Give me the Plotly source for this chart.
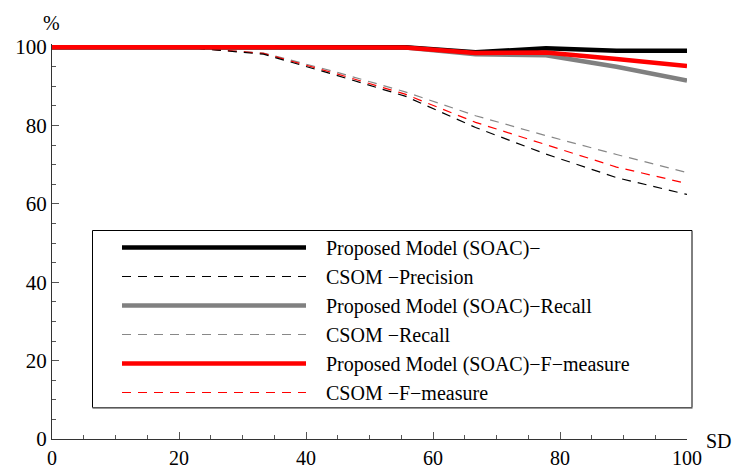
import plotly.graph_objects as go

sd = [0, 11.1, 22.2, 33.3, 44.4, 55.6, 66.7, 77.8, 88.9, 100]

soac_precision = [100, 100, 100, 100, 100, 100, 98.7, 99.7, 99.1, 99.1]
soac_recall = [100, 100, 100, 100, 100, 99.9, 98.2, 97.9, 95.0, 91.5]
soac_fmeasure = [100, 100, 100, 100, 100, 99.9, 98.5, 98.6, 97.0, 95.2]

csom_precision = [100, 100, 99.8, 98.2, 93.0, 87.5, 79.5, 72.7, 66.7, 62.4]
csom_recall = [100, 100, 99.8, 98.5, 93.8, 88.6, 82.5, 77.4, 72.6, 68.0]
csom_fmeasure = [100, 100, 99.8, 98.4, 93.4, 88.0, 80.8, 75.0, 69.4, 65.2]

names = [
    "Proposed Model (SOAC)\u2212",
    "CSOM \u2212Precision",
    "Proposed Model (SOAC)\u2212Recall",
    "CSOM \u2212Recall",
    "Proposed Model (SOAC)\u2212F\u2212measure",
    "CSOM \u2212F\u2212measure",
]

x_ticks = [0, 20, 40, 60, 80, 100]
y_ticks = [0, 20, 40, 60, 80, 100]

FONT = '"Liberation Serif", "Times New Roman", Times, serif'
DASH = "9px,7px"
PAD = "\u00a0\u00a0\u00a0"

fig = go.Figure()

# draw order: dashed first, then solid (gray, black, red); legend order by rank
traces = [
    (csom_recall, names[3], "#888888", 1.2, DASH, 4),
    (csom_fmeasure, names[5], "#ff0000", 1.2, DASH, 6),
    (csom_precision, names[1], "#000000", 1.2, DASH, 2),
    (soac_recall, names[2], "#808080", 4.5, "solid", 3),
    (soac_precision, names[0], "#000000", 4.5, "solid", 1),
    (soac_fmeasure, names[4], "#ff0000", 4.5, "solid", 5),
]
for ys, nm, col, w, dash, rank in traces:
    fig.add_trace(go.Scatter(
        x=sd, y=ys, mode="lines", name=PAD + nm,
        line=dict(color=col, width=w, dash=dash),
        legendrank=rank,
    ))

# pixel helpers for layout decoration
L, R, T, B = 52, 49, 44, 32
W, H = 736, 471
PW, PH = W - L - R, H - T - B


def px(xp):
    return (xp - L) / PW


def py(yp):
    return (H - B - yp) / PH


fig.add_shape(type="rect", xref="paper", yref="paper",
              x0=px(92.5), x1=px(692), y0=py(407.5), y1=py(230.5),
              line=dict(color="#000000", width=1), fillcolor="white", layer="below")
fig.add_shape(type="line", xref="paper", yref="paper",
              x0=px(92.5), x1=px(692.5), y0=py(408), y1=py(408),
              line=dict(color="#777777", width=1.5), layer="below")

fig.add_annotation(text="%", xref="paper", yref="paper", x=px(51.5), y=py(23.5),
                   xanchor="center", yanchor="middle", showarrow=False,
                   font=dict(family=FONT, size=20, color="#000"))
fig.add_annotation(text="SD", xref="paper", yref="paper", x=px(718.5), y=py(440.5),
                   xanchor="center", yanchor="middle", showarrow=False,
                   font=dict(family=FONT, size=20, color="#000"))

axis_common = dict(
    showgrid=False, zeroline=False, showline=True, linecolor="#333333", linewidth=1.2,
    ticks="inside", ticklen=7, tickcolor="#555555", tickwidth=1,
    layer="below traces", automargin=False,
    minor=dict(ticks="inside", ticklen=4, dtick=5, tickcolor="#555555", tickwidth=1, showgrid=False),
)

fig.update_xaxes(range=[0, 100], tickvals=x_ticks, ticktext=[str(v) for v in x_ticks],
                 ticklabelstandoff=1, tickfont=dict(family=FONT, size=20, color="#000"),
                 **axis_common)
fig.update_yaxes(range=[0, 100.8], tickvals=y_ticks, ticktext=[str(v) for v in y_ticks],
                 tickfont=dict(family=FONT, size=21, color="#000"), **axis_common)

fig.update_layout(
    width=W, height=H,
    margin=dict(l=L, r=R, t=T, b=B, pad=0, autoexpand=False),
    paper_bgcolor="white", plot_bgcolor="white",
    font=dict(family=FONT, size=20, color="#000"),
    showlegend=True,
    legend=dict(
        x=px(117), y=py(228), xanchor="left", yanchor="top",
        bgcolor="rgba(0,0,0,0)", borderwidth=0,
        itemwidth=184, font=dict(family=FONT, size=20, color="#000"),
        traceorder="normal",
    ),
)

fig.write_html("out.html")
